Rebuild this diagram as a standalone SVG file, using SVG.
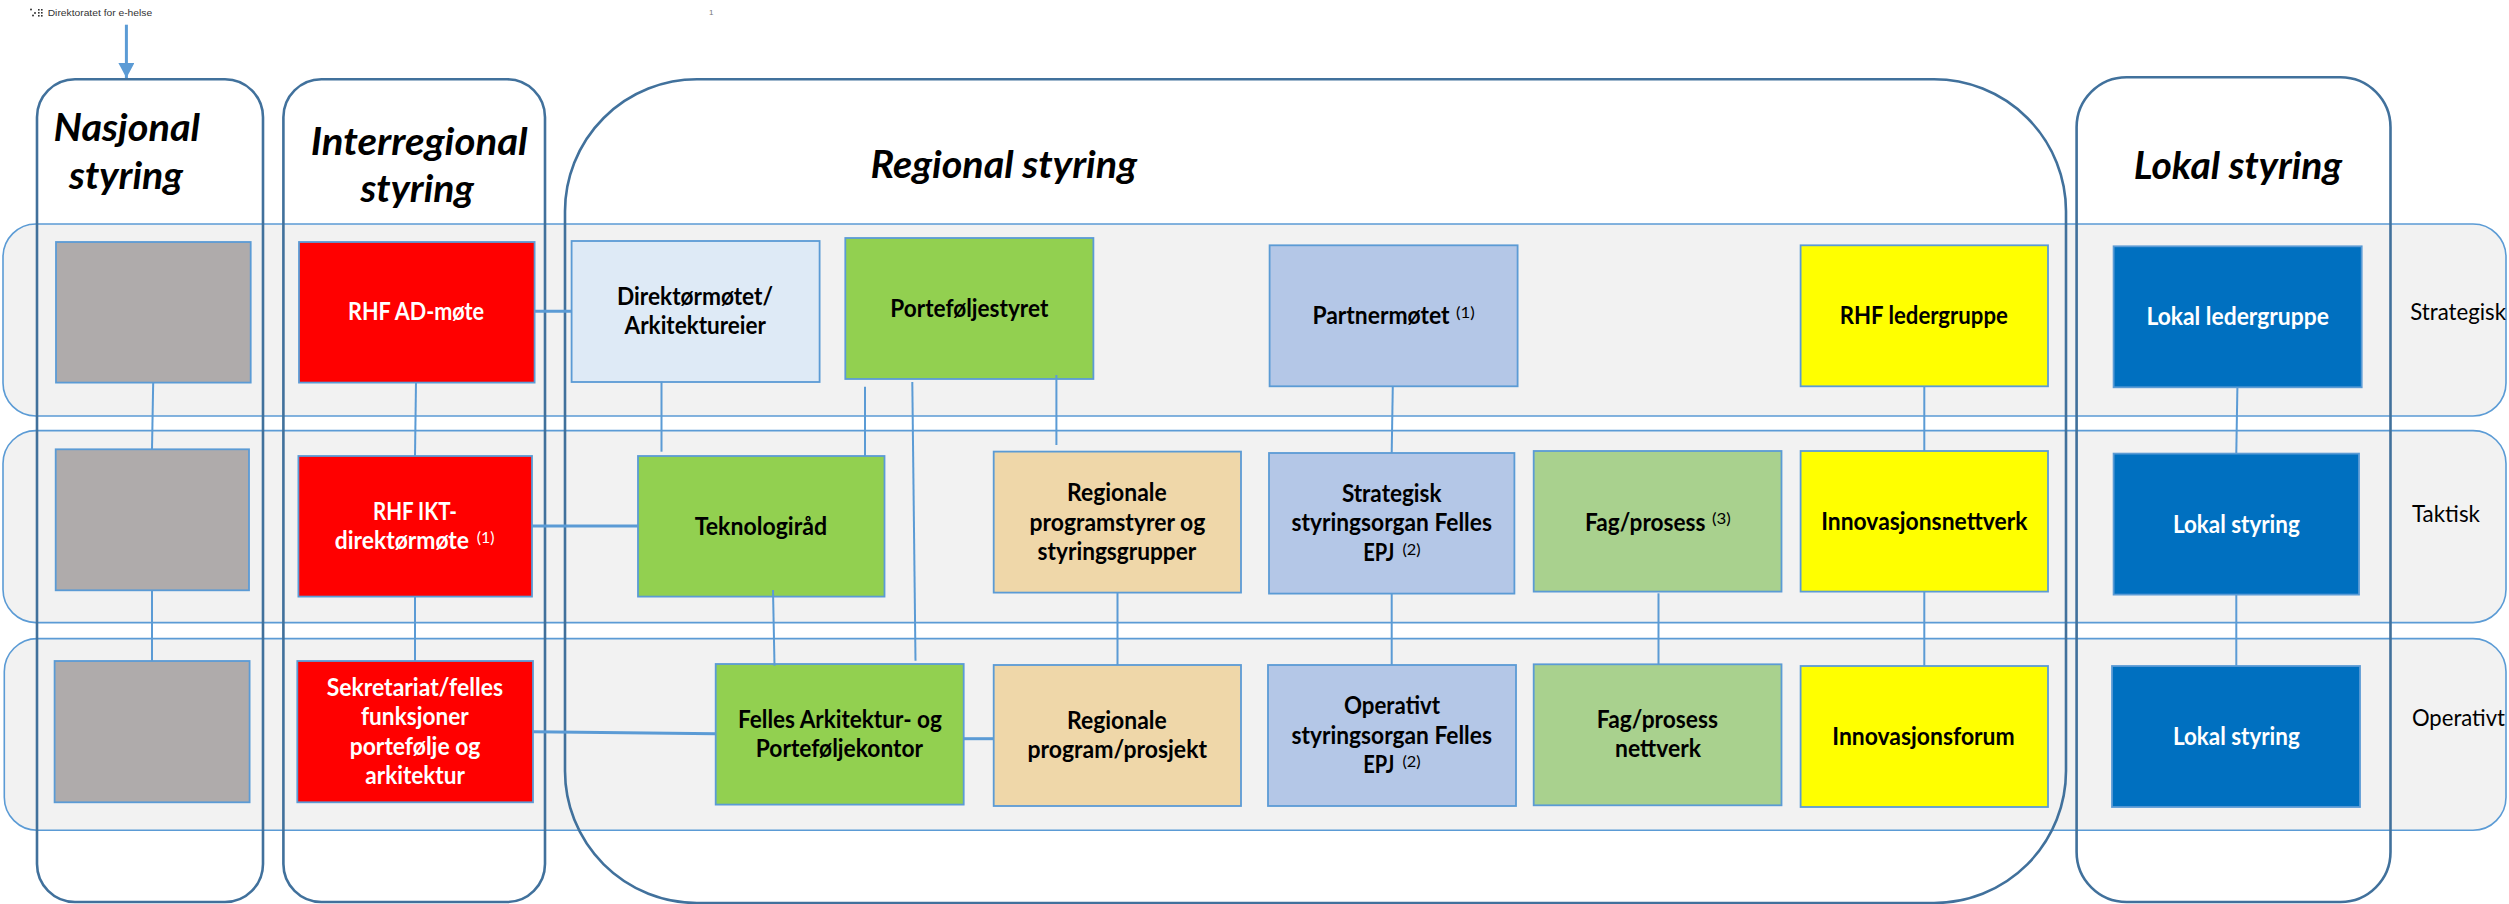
<svg xmlns="http://www.w3.org/2000/svg" width="2509" height="904" viewBox="0 0 2509 904">
<style>
text{font-family:Lato,"Open Sans","Liberation Sans",sans-serif;font-size:24px;font-weight:700;fill:#000}
.w{fill:#fff}
.t{font-size:38px;font-style:italic;font-weight:700}
.r{font-weight:400}
.s{font-size:16px;font-weight:400}
.h{font-family:"Liberation Sans",sans-serif;font-size:9.5px;font-weight:400;fill:#333}
.band{fill:#f2f2f2;stroke:#5b9bd5;stroke-width:1.6}
.col{fill:none;stroke:#41719c;stroke-width:2.6}
.b{stroke:#5b9bd5;stroke-width:1.8}
.gray{fill:#afabab}.red{fill:#f00}.lb{fill:#deeaf6}.gr{fill:#92d050}.tan{fill:#efd7a9}.bl{fill:#b4c7e7}.sg{fill:#a9d18e}.ye{fill:#ff0}.db{fill:#0070c0}
#connectors line{stroke:#5b9bd5;stroke-width:2}
#connectors line.k{stroke-width:3}
</style>
<defs><marker id="ah" markerUnits="userSpaceOnUse" markerWidth="16" markerHeight="16" refX="15" refY="8" orient="auto"><path d="M0 0L15 8L0 16Z" fill="#5b9bd5"/></marker></defs>
<g id="header">
<g fill="#333"><circle cx="31" cy="9.5" r="1"/><circle cx="33" cy="15.5" r="1"/><circle cx="35" cy="13" r="1"/><rect x="38" y="9" width="1.6" height="1.6"/><rect x="41" y="9" width="1.6" height="1.6"/><rect x="38" y="12" width="1.6" height="1.6"/><rect x="41" y="12" width="1.6" height="1.6"/><rect x="38" y="15" width="1.6" height="1.6"/><rect x="41" y="15" width="1.6" height="1.6"/></g>
<text class="h" x="47.7" y="16.3" textLength="104.5" lengthAdjust="spacingAndGlyphs">Direktoratet for e-helse</text>
<text class="h" x="709" y="15.3" style="fill:#777;font-size:8px">1</text>
</g>
<g id="bands">
<rect id="band-strategisk" class="band" x="3" y="224" width="2503" height="192" rx="33" ry="33"/>
<rect id="band-taktisk" class="band" x="3" y="430.6" width="2503" height="192" rx="33" ry="33"/>
<rect id="band-operativt" class="band" x="4.3" y="638.6" width="2501.7" height="191.7" rx="33" ry="33"/>
</g>
<g id="columns">
<rect id="col-nasjonal" class="col" x="37" y="79.3" width="226" height="822.7" rx="38" ry="38"/>
<rect id="col-interregional" class="col" x="283.4" y="79.3" width="261.6" height="822.7" rx="38" ry="38"/>
<rect id="col-regional" class="col" x="565" y="79.3" width="1501" height="823.7" rx="132" ry="132"/>
<rect id="col-lokal" class="col" x="2076.6" y="77.3" width="313.9" height="824.7" rx="50" ry="50"/>
<text class="t" x="53.6" y="141" textLength="146.4" lengthAdjust="spacingAndGlyphs">Nasjonal</text>
<text class="t" x="69" y="189.3" textLength="114" lengthAdjust="spacingAndGlyphs">styring</text>
<text class="t" x="310.7" y="155" textLength="217" lengthAdjust="spacingAndGlyphs">Interregional</text>
<text class="t" x="360.5" y="202.3" textLength="113.5" lengthAdjust="spacingAndGlyphs">styring</text>
<text class="t" x="870.5" y="178.3" textLength="266.5" lengthAdjust="spacingAndGlyphs">Regional styring</text>
<text class="t" x="2133.7" y="179.3" textLength="208.3" lengthAdjust="spacingAndGlyphs">Lokal styring</text>
</g>
<g id="node-gray1"><rect class="b gray" x="56" y="242" width="194.7" height="140.6"/></g>
<g id="node-gray2"><rect class="b gray" x="55.7" y="449.3" width="193.3" height="141"/></g>
<g id="node-gray3"><rect class="b gray" x="54.6" y="661" width="195" height="141.3"/></g>
<g id="node-rhf-ad"><rect class="b red" x="299" y="242" width="235.6" height="140.6"/>
<text class="w" x="348" y="320" textLength="136" lengthAdjust="spacingAndGlyphs">RHF AD-møte</text></g>
<g id="node-rhf-ikt"><rect class="b red" x="298.4" y="456" width="233.6" height="140.6"/>
<text class="w" x="373" y="520" textLength="84" lengthAdjust="spacingAndGlyphs">RHF IKT-</text>
<text class="w" x="334.8" y="548.7" textLength="134.2" lengthAdjust="spacingAndGlyphs">direktørmøte</text>
<text class="w s" x="476.7" y="542.7" textLength="17.7" lengthAdjust="spacingAndGlyphs">(1)</text></g>
<g id="node-sekretariat"><rect class="b red" x="297.3" y="661" width="235.7" height="141.3"/>
<text class="w" x="326.7" y="695.7" textLength="176.3" lengthAdjust="spacingAndGlyphs">Sekretariat/felles</text>
<text class="w" x="361" y="725" textLength="107.7" lengthAdjust="spacingAndGlyphs">funksjoner</text>
<text class="w" x="349.7" y="754.6" textLength="130.7" lengthAdjust="spacingAndGlyphs">portefølje og</text>
<text class="w" x="365.3" y="784" textLength="99.6" lengthAdjust="spacingAndGlyphs">arkitektur</text></g>
<g id="node-direktormotet"><rect class="b lb" x="571.6" y="241" width="248" height="141"/>
<text x="617" y="305" textLength="156" lengthAdjust="spacingAndGlyphs">Direktørmøtet/</text>
<text x="624.6" y="334" textLength="141.4" lengthAdjust="spacingAndGlyphs">Arkitektureier</text></g>
<g id="node-teknologirad"><rect class="b gr" x="638" y="456" width="246.5" height="140.6"/>
<text x="694.7" y="535" textLength="132.3" lengthAdjust="spacingAndGlyphs">Teknologiråd</text></g>
<g id="node-felles-arkitektur"><rect class="b gr" x="715.7" y="664" width="248" height="140.6"/>
<text x="738" y="727.7" textLength="203.8" lengthAdjust="spacingAndGlyphs">Felles Arkitektur- og</text>
<text x="755.8" y="756.7" textLength="167.2" lengthAdjust="spacingAndGlyphs">Porteføljekontor</text></g>
<g id="node-portefoljestyret"><rect class="b gr" x="845.3" y="238" width="248.1" height="141"/>
<text x="890.3" y="316.7" textLength="158" lengthAdjust="spacingAndGlyphs">Porteføljestyret</text></g>
<g id="node-reg-programstyrer"><rect class="b tan" x="993.7" y="451.6" width="247.3" height="141"/>
<text x="1067" y="501.3" textLength="99.7" lengthAdjust="spacingAndGlyphs">Regionale</text>
<text x="1029.6" y="530.7" textLength="175.7" lengthAdjust="spacingAndGlyphs">programstyrer og</text>
<text x="1037.6" y="560" textLength="158.6" lengthAdjust="spacingAndGlyphs">styringsgrupper</text></g>
<g id="node-reg-program"><rect class="b tan" x="993.7" y="665" width="247.3" height="141"/>
<text x="1067" y="729.3" textLength="99.7" lengthAdjust="spacingAndGlyphs">Regionale</text>
<text x="1027.5" y="758" textLength="179.5" lengthAdjust="spacingAndGlyphs">program/prosjekt</text></g>
<g id="node-partnermotet"><rect class="b bl" x="1269.6" y="245.3" width="248" height="141"/>
<text x="1312.4" y="324" textLength="137.1" lengthAdjust="spacingAndGlyphs">Partnermøtet</text>
<text class="s" x="1456" y="318" textLength="18.7" lengthAdjust="spacingAndGlyphs">(1)</text></g>
<g id="node-strategisk-epj"><rect class="b bl" x="1269" y="453" width="245.4" height="140.6"/>
<text x="1341.9" y="502" textLength="99.6" lengthAdjust="spacingAndGlyphs">Strategisk</text>
<text x="1291.5" y="531.3" textLength="200.4" lengthAdjust="spacingAndGlyphs">styringsorgan Felles</text>
<text x="1363.3" y="560.7" textLength="31" lengthAdjust="spacingAndGlyphs">EPJ</text>
<text class="s" x="1402.4" y="554.7" textLength="18.2" lengthAdjust="spacingAndGlyphs">(2)</text></g>
<g id="node-operativt-epj"><rect class="b bl" x="1268" y="665" width="248" height="141"/>
<text x="1344" y="714" textLength="96" lengthAdjust="spacingAndGlyphs">Operativt</text>
<text x="1291.5" y="744" textLength="200.4" lengthAdjust="spacingAndGlyphs">styringsorgan Felles</text>
<text x="1363.3" y="772.7" textLength="31" lengthAdjust="spacingAndGlyphs">EPJ</text>
<text class="s" x="1402.4" y="766.7" textLength="18.2" lengthAdjust="spacingAndGlyphs">(2)</text></g>
<g id="node-fag-prosess"><rect class="b sg" x="1533.7" y="451" width="247.8" height="140.6"/>
<text x="1585" y="530.7" textLength="120.4" lengthAdjust="spacingAndGlyphs">Fag/prosess</text>
<text class="s" x="1712" y="524" textLength="18.8" lengthAdjust="spacingAndGlyphs">(3)</text></g>
<g id="node-fag-nettverk"><rect class="b sg" x="1533.7" y="664.3" width="247.8" height="141"/>
<text x="1596.8" y="728.3" textLength="121.2" lengthAdjust="spacingAndGlyphs">Fag/prosess</text>
<text x="1615" y="756.7" textLength="86" lengthAdjust="spacingAndGlyphs">nettverk</text></g>
<g id="node-rhf-ledergruppe"><rect class="b ye" x="1800.6" y="245.3" width="247.4" height="141"/>
<text x="1839.7" y="324" textLength="168.2" lengthAdjust="spacingAndGlyphs">RHF ledergruppe</text></g>
<g id="node-innovasjonsnettverk"><rect class="b ye" x="1800.6" y="451" width="247.4" height="140.6"/>
<text x="1821.2" y="530" textLength="206.2" lengthAdjust="spacingAndGlyphs">Innovasjonsnettverk</text></g>
<g id="node-innovasjonsforum"><rect class="b ye" x="1800.6" y="666" width="247.4" height="141"/>
<text x="1832.3" y="745" textLength="182.4" lengthAdjust="spacingAndGlyphs">Innovasjonsforum</text></g>
<g id="node-lokal-ledergruppe"><rect class="b db" x="2113.6" y="246.3" width="248.1" height="141"/>
<text class="w" x="2146.4" y="325" textLength="182.5" lengthAdjust="spacingAndGlyphs">Lokal ledergruppe</text></g>
<g id="node-lokal-styring-1"><rect class="b db" x="2113.6" y="453.6" width="245.4" height="141"/>
<text class="w" x="2172.9" y="533.3" textLength="126.9" lengthAdjust="spacingAndGlyphs">Lokal styring</text></g>
<g id="node-lokal-styring-2"><rect class="b db" x="2112" y="666" width="248" height="141"/>
<text class="w" x="2172.9" y="745" textLength="126.9" lengthAdjust="spacingAndGlyphs">Lokal styring</text></g>
<g id="levels">
<text class="r" x="2410.3" y="320" textLength="95.7" lengthAdjust="spacingAndGlyphs">Strategisk</text>
<text class="r" x="2411.9" y="522" textLength="68.1" lengthAdjust="spacingAndGlyphs">Taktisk</text>
<text class="r" x="2411.9" y="725.7" textLength="93.1" lengthAdjust="spacingAndGlyphs">Operativt</text>
</g>
<g id="connectors">
<line class="k" x1="126.4" y1="24.7" x2="126.4" y2="78" marker-end="url(#ah)"/>
<line x1="153.2" y1="382" x2="152" y2="449"/>
<line x1="152" y1="590" x2="152" y2="661"/>
<line x1="416" y1="382" x2="415" y2="456"/>
<line x1="415" y1="596" x2="415" y2="661"/>
<line class="k" x1="534.6" y1="311.3" x2="571.6" y2="311.3"/>
<line class="k" x1="532" y1="526" x2="638" y2="526"/>
<line class="k" x1="533" y1="731.7" x2="716" y2="733.7"/>
<line x1="661.5" y1="381.7" x2="661.5" y2="451.7"/>
<line x1="773" y1="590" x2="774.5" y2="665.7"/>
<line x1="865" y1="386.7" x2="865" y2="456"/>
<line x1="912.3" y1="382" x2="915.5" y2="660.7"/>
<line x1="1056.4" y1="375" x2="1056.4" y2="445"/>
<line x1="1117.5" y1="592" x2="1117.5" y2="665"/>
<line class="k" x1="963.7" y1="738.7" x2="993.7" y2="738.7"/>
<line x1="1392.8" y1="386" x2="1391.7" y2="453"/>
<line x1="1391.7" y1="593" x2="1391.7" y2="665"/>
<line x1="1658.5" y1="593.3" x2="1658.5" y2="664"/>
<line x1="1924.3" y1="386" x2="1924.3" y2="451"/>
<line x1="1924.3" y1="591" x2="1924.3" y2="666"/>
<line x1="2237.4" y1="387" x2="2236.3" y2="453"/>
<line x1="2236.3" y1="594" x2="2236.3" y2="666"/>
</g>
</svg>
